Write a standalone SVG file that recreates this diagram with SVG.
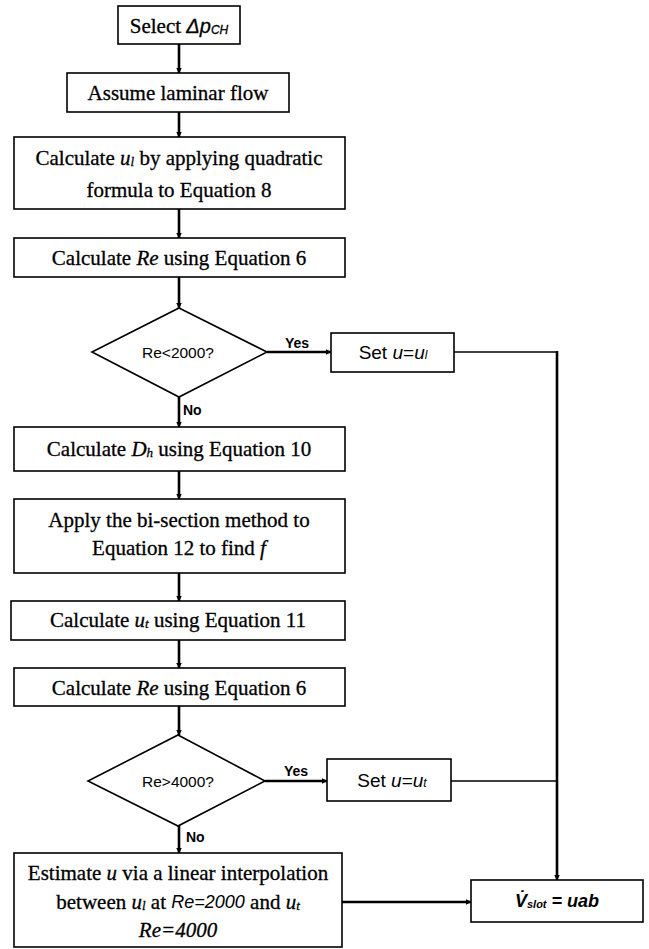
<svg xmlns="http://www.w3.org/2000/svg" width="649" height="949" viewBox="0 0 649 949">
<style>
.box{fill:#fff;stroke:#000;stroke-width:1.6}
.t{font-family:"Liberation Serif","Times New Roman",serif;font-size:21px;fill:#000;stroke:#000;stroke-width:0.3;text-anchor:middle;dominant-baseline:central}
.s{font-family:"Liberation Sans",Arial,sans-serif;fill:#000;text-anchor:middle;dominant-baseline:central}
.lbl{font-family:"Liberation Sans",Arial,sans-serif;font-size:14px;font-weight:bold;fill:#000}
.c{fill:none;stroke:#000;stroke-width:2.6}
.thin{fill:none;stroke:#000;stroke-width:1.6}
.i{font-style:italic}
</style>
<defs>
<marker id="ah" viewBox="0 0 6 6" refX="5.5" refY="3" markerWidth="6" markerHeight="6" markerUnits="userSpaceOnUse" orient="auto">
<path d="M0,0 L6,3 L0,6 Z" fill="#000"/>
</marker>
</defs>
<g id="connectors">
<line class="c" x1="179" y1="44" x2="179" y2="73" marker-end="url(#ah)"/>
<line class="c" x1="179" y1="112" x2="179" y2="137" marker-end="url(#ah)"/>
<line class="c" x1="179" y1="209" x2="179" y2="238" marker-end="url(#ah)"/>
<line class="c" x1="179" y1="277" x2="179" y2="308" marker-end="url(#ah)"/>
<line class="c" x1="267" y1="352" x2="331" y2="352" marker-end="url(#ah)"/>
<line class="c" x1="179" y1="397" x2="179" y2="427" marker-end="url(#ah)"/>
<line class="c" x1="179" y1="471" x2="179" y2="499" marker-end="url(#ah)"/>
<line class="c" x1="179" y1="573" x2="179" y2="601" marker-end="url(#ah)"/>
<line class="c" x1="179" y1="640" x2="179" y2="668" marker-end="url(#ah)"/>
<line class="c" x1="179" y1="706" x2="179" y2="735" marker-end="url(#ah)"/>
<line class="c" x1="265" y1="781" x2="327" y2="781" marker-end="url(#ah)"/>
<line class="c" x1="179" y1="826" x2="179" y2="853" marker-end="url(#ah)"/>
<line class="thin" x1="454" y1="352" x2="557" y2="352"/>
<line class="thin" x1="451" y1="781" x2="557" y2="781"/>
<line class="c" x1="557" y1="351" x2="557" y2="880" stroke-width="3.2" marker-end="url(#ah)"/>
<line class="c" x1="342" y1="902" x2="471" y2="902" stroke-width="3.2" marker-end="url(#ah)"/>
<text class="lbl" x="285" y="348">Yes</text>
<text class="lbl" x="284" y="776">Yes</text>
<text class="lbl" x="183" y="415">No</text>
<text class="lbl" x="186" y="842">No</text>
</g>
<g id="n1">
<rect class="box" x="118" y="6" width="122" height="38"/>
<text class="t" x="179" y="26">Select <tspan class="i" font-family="Liberation Sans,Arial,sans-serif" font-size="20">Δp</tspan><tspan class="i" font-family="Liberation Sans,Arial,sans-serif" font-size="12" dy="4">CH</tspan></text>
</g>
<g id="n2">
<rect class="box" x="67" y="73" width="222" height="39"/>
<text class="t" x="178" y="93">Assume laminar flow</text>
</g>
<g id="n3">
<rect class="box" x="14" y="137" width="331" height="72"/>
<text class="t" x="179" y="158">Calculate <tspan class="i">u</tspan><tspan class="i" font-size="13" dy="3">l</tspan><tspan dy="-3"> by applying quadratic</tspan></text>
<text class="t" x="179" y="190">formula to Equation 8</text>
</g>
<g id="n4">
<rect class="box" x="14" y="238" width="331" height="39"/>
<text class="t" x="179" y="258">Calculate <tspan class="i">Re</tspan> using Equation 6</text>
</g>
<g id="n5">
<polygon points="179,308 267,352 179,397 92,352" fill="#fff" stroke="#000" stroke-width="1.6"/>
<text class="s" x="178" y="352" font-size="15.5">Re&lt;2000?</text>
</g>
<g id="n6">
<rect class="box" x="331" y="333" width="123" height="39"/>
<text class="s" x="393" y="352" font-size="19">Set <tspan class="i">u</tspan>=<tspan class="i">u</tspan><tspan class="i" font-size="12" dy="3">l</tspan></text>
</g>
<g id="n7">
<rect class="box" x="14" y="427" width="331" height="44"/>
<text class="t" x="179" y="449">Calculate <tspan class="i">D</tspan><tspan class="i" font-size="13" dy="3">h</tspan><tspan dy="-3"> using Equation 10</tspan></text>
</g>
<g id="n8">
<rect class="box" x="14" y="499" width="331" height="74"/>
<text class="t" x="179" y="520">Apply the bi-section method to</text>
<text class="t" x="179" y="548">Equation 12 to find <tspan class="i">f</tspan></text>
</g>
<g id="n9">
<rect class="box" x="11" y="601" width="334" height="39"/>
<text class="t" x="178" y="620">Calculate <tspan class="i">u</tspan><tspan class="i" font-size="13" dy="3">t</tspan><tspan dy="-3"> using Equation 11</tspan></text>
</g>
<g id="n10">
<rect class="box" x="14" y="668" width="331" height="38"/>
<text class="t" x="179" y="688">Calculate <tspan class="i">Re</tspan> using Equation 6</text>
</g>
<g id="n11">
<polygon points="178,735 265,781 178,826 88,781" fill="#fff" stroke="#000" stroke-width="1.6"/>
<text class="s" x="178" y="781" font-size="15.5">Re&gt;4000?</text>
</g>
<g id="n12">
<rect class="box" x="327" y="759" width="124" height="42"/>
<text class="s" x="392" y="780" font-size="19">Set <tspan class="i">u</tspan>=<tspan class="i">u</tspan><tspan class="i" font-size="12" dy="3">t</tspan></text>
</g>
<g id="n13">
<rect class="box" x="14" y="853" width="328" height="94"/>
<text class="t" x="178" y="873">Estimate <tspan class="i">u</tspan> via a linear interpolation</text>
<text class="t" x="178" y="902">between <tspan class="i">u</tspan><tspan class="i" font-size="13" dy="3">l</tspan><tspan dy="-3"> at </tspan><tspan class="i" font-family="Liberation Sans,Arial,sans-serif" font-size="18" stroke-width="0">Re=2000</tspan> and <tspan class="i">u</tspan><tspan class="i" font-size="13" dy="3">t</tspan></text>
<text class="t i" x="178" y="930" font-family="Liberation Sans,Arial,sans-serif" font-size="18" stroke-width="0">Re=4000</text>
</g>
<g id="n14">
<rect class="box" x="471" y="880" width="172" height="42"/>
<text class="s i" x="557" y="901" font-size="18" font-weight="bold">V̇<tspan font-size="11" dy="3">slot</tspan><tspan dy="-3"> = uab</tspan></text>
</g>
</svg>
